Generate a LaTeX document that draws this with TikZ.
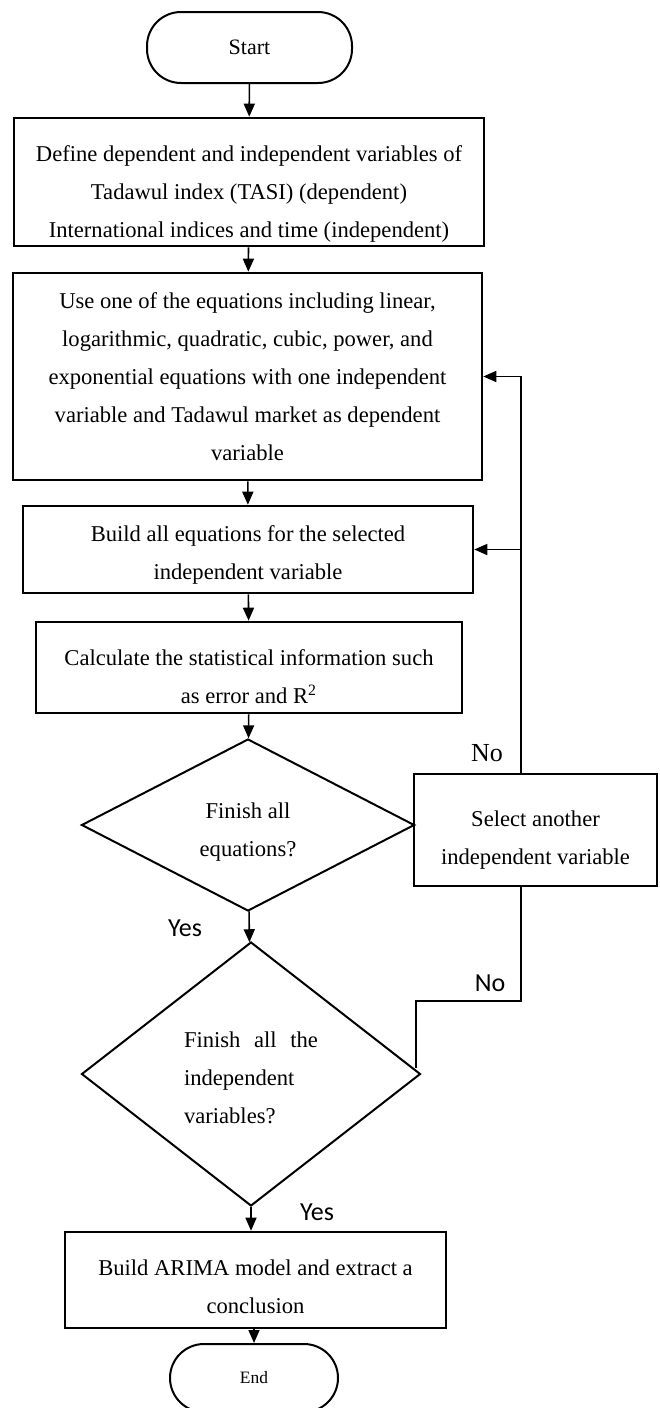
\documentclass[tikz,border=0pt]{standalone}
\usepackage{fontspec}
\setmainfont{Liberation Serif}
\newfontfamily\calibfont{Carlito}
\usepackage{tikz}
\usetikzlibrary{shapes.geometric}
\usetikzlibrary{arrows.meta}
\newcommand{\flowfont}{\fontsize{11.3}{19}\selectfont}
\newcommand{\ansfont}{\calibfont\fontsize{13}{15}\selectfont}
\newcommand{\topgap}[1]{\rule{0pt}{#1}}

\begin{document}
\begin{tikzpicture}[x=0.5pt, y=-0.5pt,
	terminal/.style={draw, line width=1pt, rounded corners=17pt, inner sep=0pt},
	procbox/.style={draw, line width=1.3pt, inner sep=0pt, align=center, font=\flowfont},
	decision/.style={draw, diamond, line width=1pt, inner sep=0pt, font=\flowfont},
	flowline/.style={line width=0.8pt, -{Triangle[length=6.5pt, width=5.5pt]}},
	plainline/.style={line width=0.8pt},
	anslabel/.style={font=\ansfont, inner sep=0pt}]
								\useasboundingbox (0,0) rectangle (659,1408);

								\node[terminal, minimum width=102.5pt, minimum height=35.5pt, font=\fontsize{11}{13}\selectfont] (start) at (249.5,47.5) {Start};

								\node[procbox, minimum width=235pt, minimum height=64pt] (define) at (249,182) {\topgap{19.8pt}Define dependent and independent variables of\\Tadawul index (TASI) (dependent)\\International indices and time (independent)};

								\node[procbox, minimum width=234.5pt, minimum height=103.5pt] (useeq) at (247.5,376.5) {Use one of the equations including linear,\\logarithmic, quadratic, cubic, power, and\\exponential equations with one independent\\variable and Tadawul market as dependent\\variable};

								\node[procbox, minimum width=225pt, minimum height=43.5pt] (buildeq) at (248,549.5) {\topgap{13.8pt}Build all equations for the selected\\independent variable};

								\node[procbox, minimum width=213pt, minimum height=45.5pt] (calc) at (249,667.5) {\topgap{16.8pt}Calculate the statistical information such\\as error and R\textsuperscript{2}};

								\node[decision, aspect=2, minimum width=166.5pt, minimum height=86pt, align=center] (fineq) at (248,825) {\topgap{14.8pt}Finish all\\equations?};

								\node[procbox, minimum width=121.5pt, minimum height=56pt] (select) at (535.5,830) {\topgap{17.8pt}Select another\\independent variable};

								\node[decision, aspect=1.28, minimum width=169.5pt, minimum height=132pt, align=left] (finvar) at (251,1074) {\topgap{11.8pt}\makebox[67pt][s]{Finish all the}\\independent\\variables?};

								\node[procbox, minimum width=190.5pt, minimum height=48pt] (arima) at (255.5,1280) {\topgap{14.8pt}Build ARIMA model and extract a\\conclusion};

								\node[terminal, minimum width=84pt, minimum height=34pt, font=\fontsize{8.7}{10}\selectfont] (end) at (254,1378) {End};

								\coordinate (ret) at (521,0);
								\coordinate (nobend) at (416,1001);

								\draw[flowline] (start) -- (define);
								\draw[flowline] (define) -- (useeq);
								\draw[flowline] (useeq) -- (buildeq);
								\draw[flowline] (buildeq) -- (calc);
								\draw[flowline] (calc) -- (fineq);
								\draw[flowline] (fineq) -- (finvar);
								\draw[flowline] (finvar.south) -- (finvar.south |- arima.north);
								\draw[flowline] (arima.south -| end) -- (end);

								\draw[flowline] (select.north -| ret) |- (useeq.east);
								\draw[flowline] (ret |- buildeq.east) -- (buildeq.east);
								\draw[plainline] (select.south -| ret) |- (nobend) -- (nobend |- finvar.2);

								\node[font=\fontsize{13}{15}\selectfont, inner sep=0pt] (no1) at (487,753) {No};
								\node[anslabel] (yes1) at (185,928) {Yes};
								\node[anslabel] (no2) at (490,983) {No};
								\node[anslabel] (yes2) at (317,1212) {Yes};
							\end{tikzpicture}
\end{document}
